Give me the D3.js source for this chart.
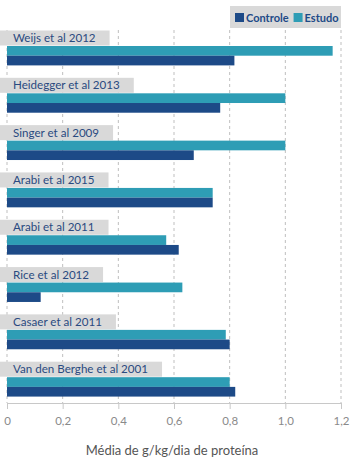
<!DOCTYPE html>
<html><head><meta charset="utf-8">
<script src="https://cdn.jsdelivr.net/npm/d3@7"></script>
<style>body{margin:0;background:#fff;} svg{display:block;font-family:Lato,"Open Sans",sans-serif;}</style>
</head><body>
<svg id="c" width="350" height="461"></svg>
<script>
const studies = ["Weijs et al 2012","Heidegger et al 2013","Singer et al 2009","Arabi et al 2015","Arabi et al 2011","Rice et al 2012","Casaer et al 2011","Van den Berghe et al 2001"];
const controle = [0.817,0.766,0.671,0.739,0.617,0.121,0.800,0.820];
const estudo = [1.170,1.000,1.000,0.739,0.572,0.630,0.786,0.800];
const xTicks = [0,0.2,0.4,0.6,0.8,1.0,1.2];
const seriesNames = ["Controle","Estudo"];
const colors = {Controle:"#1d4a87", Estudo:"#2e9db5"};

const svg = d3.select("#c");
const x = d3.scaleLinear().domain([0,1.2]).range([7,341]);
const y = d3.scaleBand().domain(studies).range([30.5,409]).paddingInner(0).paddingOuter(0);
const labelH = 15, barH = 9.7;

// grid
svg.append("g").selectAll("line").data(xTicks).join("line")
  .attr("x1",d=>x(d)).attr("x2",d=>x(d)).attr("y1",30).attr("y2",403)
  .attr("stroke","#bfbfbf").attr("stroke-dasharray","3,3").attr("stroke-width",1);

// axis
const axis = svg.append("g").attr("transform","translate(0,403)")
  .call(d3.axisBottom(x).tickValues(xTicks).tickSize(6).tickPadding(8)
    .tickFormat(d=>d3.format(".1f")(d).replace(".",",").replace(/^0,0$/,"0")));
axis.select(".domain").attr("stroke","#c8c8c8");
axis.selectAll(".tick line").attr("stroke","#c8c8c8");
axis.selectAll(".tick text").attr("fill","#8a8a8a").attr("font-size","11.5px").attr("font-family","Lato, sans-serif");

const g = svg.append("g");
studies.forEach((s,i)=>{
  const top = y(s);
  const t = g.append("text").text(s).attr("x",13).attr("y",top+11.5)
    .attr("font-size","11.6px").attr("fill","#2a4a80");
  const w = t.node().getComputedTextLength();
  g.insert("rect","text").attr("x",0).attr("y",top).attr("width",w+27).attr("height",labelH).attr("fill","#d9d9d9");
  g.append("rect").attr("x",x(0)).attr("y",top+labelH+0.5).attr("width",x(estudo[i])-x(0)).attr("height",barH).attr("fill",colors.Estudo);
  g.append("rect").attr("x",x(0)).attr("y",top+labelH+0.5+barH).attr("width",x(controle[i])-x(0)).attr("height",barH).attr("fill",colors.Controle);
});

// legend
const lg = svg.append("g");
lg.append("rect").attr("x",230).attr("y",6).attr("width",111).attr("height",22).attr("fill","#d9d9d9");
let lx = 235;
seriesNames.forEach(n=>{
  lg.append("rect").attr("x",lx).attr("y",13).attr("width",9).attr("height",9).attr("fill",colors[n]);
  const t = lg.append("text").text(n).attr("x",lx+11).attr("y",21.5).attr("font-size","11px").attr("font-weight","bold").attr("fill","#1d4a87");
  lx += 11 + t.node().getComputedTextLength() + 5;
});

svg.append("text").text("Média de g/kg/dia de proteína").attr("x",172).attr("y",455)
  .attr("text-anchor","middle").attr("font-size","13px").attr("fill","#555");
</script>
</body></html>
